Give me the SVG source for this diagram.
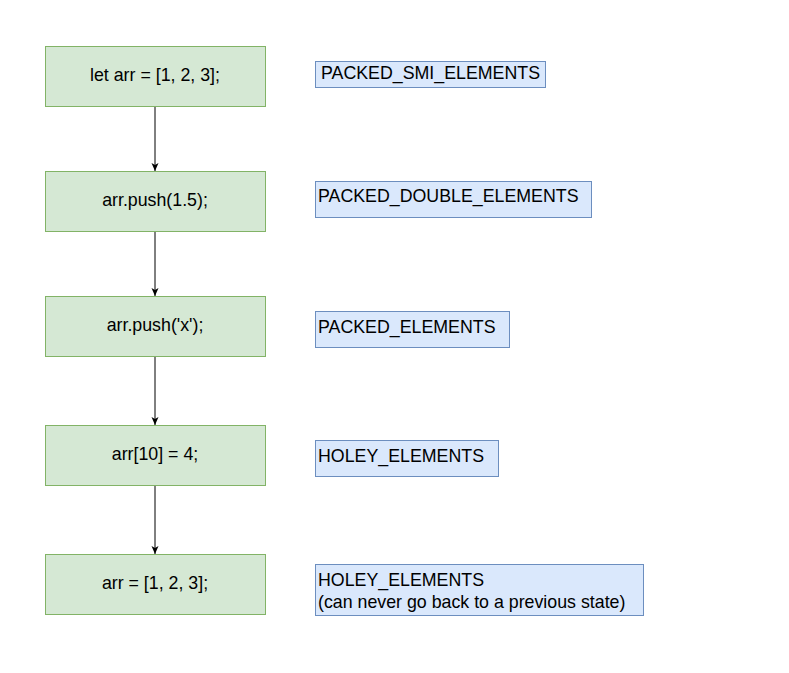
<svg xmlns="http://www.w3.org/2000/svg" width="789" height="673" viewBox="0 0 789 673">
<defs>
<style>
.code rect{fill:#d5e8d4;stroke:#82b366;stroke-width:1}
.state rect{fill:#dae8fc;stroke:#6c8ebf;stroke-width:1}
text{font-family:"Liberation Sans",Arial,sans-serif;font-size:17.8px;fill:#000}
.code text{text-anchor:middle}
.conn line{stroke:#000;stroke-width:1}
</style>
<marker id="arr" viewBox="0 0 8 8" refX="8" refY="4" markerWidth="8" markerHeight="8" markerUnits="userSpaceOnUse" orient="auto">
<path d="M0,0.5 L8,4 L0,7.5 L2,4 Z" fill="#000"/>
</marker>
</defs>
<rect width="789" height="673" fill="#fff"/>
<g id="connectors" class="conn">
<line x1="155" y1="106" x2="155" y2="171" marker-end="url(#arr)"/>
<line x1="155" y1="231" x2="155" y2="296" marker-end="url(#arr)"/>
<line x1="155" y1="356" x2="155" y2="425" marker-end="url(#arr)"/>
<line x1="155" y1="485" x2="155" y2="554" marker-end="url(#arr)"/>
</g>
<g id="n1" class="code"><rect x="45.5" y="46.5" width="220" height="60"/><text x="155" y="81">let arr = [1, 2, 3];</text></g>
<g id="n2" class="code"><rect x="45.5" y="171.5" width="220" height="60"/><text x="155" y="206">arr.push(1.5);</text></g>
<g id="n3" class="code"><rect x="45.5" y="296.5" width="220" height="60"/><text x="155" y="331">arr.push('x');</text></g>
<g id="n4" class="code"><rect x="45.5" y="425.5" width="220" height="60"/><text x="155" y="460">arr[10] = 4;</text></g>
<g id="n5" class="code"><rect x="45.5" y="554.5" width="220" height="60"/><text x="155" y="589">arr = [1, 2, 3];</text></g>
<g id="s1" class="state"><rect x="315.5" y="61.5" width="230" height="26"/><text x="321" y="79">PACKED_SMI_ELEMENTS</text></g>
<g id="s2" class="state"><rect x="315.5" y="181.5" width="276" height="36"/><text x="318" y="202">PACKED_DOUBLE_ELEMENTS</text></g>
<g id="s3" class="state"><rect x="315.5" y="311.5" width="194" height="36"/><text x="318" y="333">PACKED_ELEMENTS</text></g>
<g id="s4" class="state"><rect x="315.5" y="440.5" width="183" height="36"/><text x="318" y="462">HOLEY_ELEMENTS</text></g>
<g id="s5" class="state"><rect x="315.5" y="564.5" width="328" height="51"/><text x="318" y="586">HOLEY_ELEMENTS</text><text x="318" y="608">(can never go back to a previous state)</text></g>
</svg>
